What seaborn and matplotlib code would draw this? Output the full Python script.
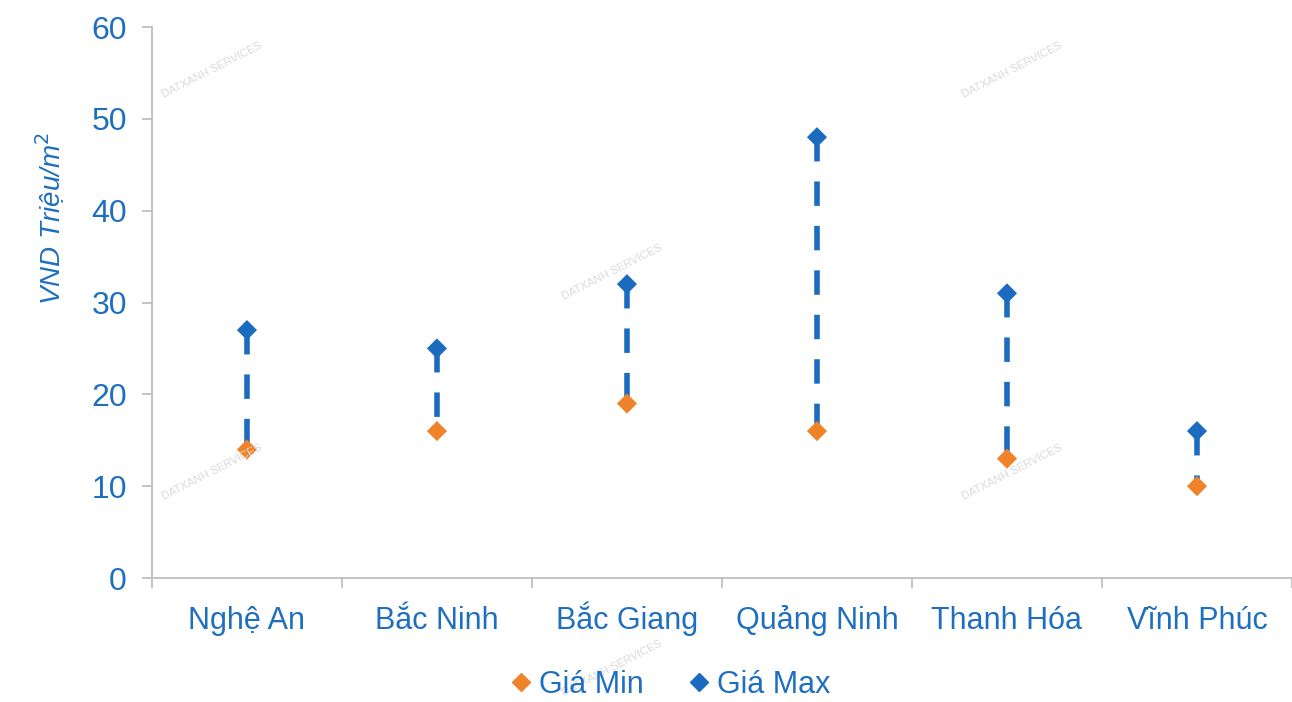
import matplotlib
matplotlib.use("Agg")
import matplotlib.pyplot as plt
import seaborn as sns
import pandas as pd

# Price range per province (million VND / m2)
provinces = ["Nghệ An", "Bắc Ninh", "Bắc Giang", "Quảng Ninh", "Thanh Hóa", "Vĩnh Phúc"]
price_min = [14, 16, 19, 16, 13, 10]
price_max = [27, 25, 32, 48, 31, 16]
series_names = ["Giá Min", "Giá Max"]
y_ticks = [0, 10, 20, 30, 40, 50, 60]
y_label = "VND Triệu/m$^2$"
watermark = "DATXANH SERVICES"

BLUE = "#1B6BBF"
TEXT_BLUE = "#1F6FC0"
ORANGE = "#F0822A"
GRID_GREY = "#BFBFBF"

sns.set_theme(style="white")
plt.rcParams["font.family"] = ["Liberation Sans", "DejaVu Sans"]

df = pd.DataFrame({
    "province": provinces * 2,
    "pos": list(range(len(provinces))) * 2,
    "value": price_min + price_max,
    "series": [series_names[0]] * len(provinces) + [series_names[1]] * len(provinces),
})

fig = plt.figure(figsize=(12.92, 7.02), dpi=100)
ax = fig.add_axes([0.1176, 0.1766, 0.8824, 0.7849])

# dashed connectors from max down to min
for i, (lo, hi) in enumerate(zip(price_min, price_max)):
    ax.plot([i, i], [hi, lo], color=BLUE, lw=4.0, ls=(0, (4.4, 3.6)),
            solid_capstyle="butt", dash_capstyle="butt", zorder=2)

sns.scatterplot(data=df, x="pos", y="value", hue="series",
                palette={series_names[0]: ORANGE, series_names[1]: BLUE},
                marker="D", s=105, linewidth=0, ax=ax, zorder=3, legend=False)

ax.set_xlim(-0.5, len(provinces) - 0.5)
ax.set_ylim(0, 60)
ax.set_yticks(y_ticks)
ax.set_yticklabels([str(t) for t in y_ticks])
ax.set_xticks(range(len(provinces)))
ax.set_xticklabels(provinces)
ax.set_xticks([i - 0.5 for i in range(len(provinces) + 1)], minor=True)
ax.set_xlabel("")
ax.set_ylabel("")

for side in ["top", "right"]:
    ax.spines[side].set_visible(False)
for side in ["left", "bottom"]:
    ax.spines[side].set_color(GRID_GREY)
    ax.spines[side].set_linewidth(1.3)

ax.tick_params(axis="y", which="major", length=7, width=1.3, color=GRID_GREY,
               direction="out", pad=11, labelsize=23, labelcolor=TEXT_BLUE, left=True)
ax.tick_params(axis="x", which="major", length=0, pad=37, labelsize=22,
               labelcolor=TEXT_BLUE, bottom=True)
ax.tick_params(axis="x", which="minor", length=7, width=1.3, color=GRID_GREY,
               direction="out", bottom=True)
for lbl in ax.get_xticklabels():
    lbl.set_verticalalignment("baseline")

fig.text(50 / 1292, 1 - 218 / 702, y_label, rotation=90, ha="center", va="center",
         fontsize=20, style="italic", color=TEXT_BLUE)

# legend
handles = [
    plt.Line2D([], [], marker="D", ls="none", color=ORANGE, markersize=9, label=series_names[0]),
    plt.Line2D([], [], marker="D", ls="none", color=BLUE, markersize=9, label=series_names[1]),
]
leg = fig.legend(handles=handles, loc="center", bbox_to_anchor=(668 / 1292, 1 - 685 / 702),
                 ncol=2, frameon=False, fontsize=22, handletextpad=0.1,
                 columnspacing=1.3, handlelength=1.0)
for t in leg.get_texts():
    t.set_color(TEXT_BLUE)

# faint watermark stamps
for (px, py) in [(212, 70), (1012, 70), (612, 272), (212, 472), (1012, 472), (612, 668)]:
    fig.text(px / 1292, 1 - py / 702, watermark, rotation=27, ha="center", va="center",
             fontsize=8, color="#DADADA", zorder=0)

fig.savefig("out.png", dpi=100)
